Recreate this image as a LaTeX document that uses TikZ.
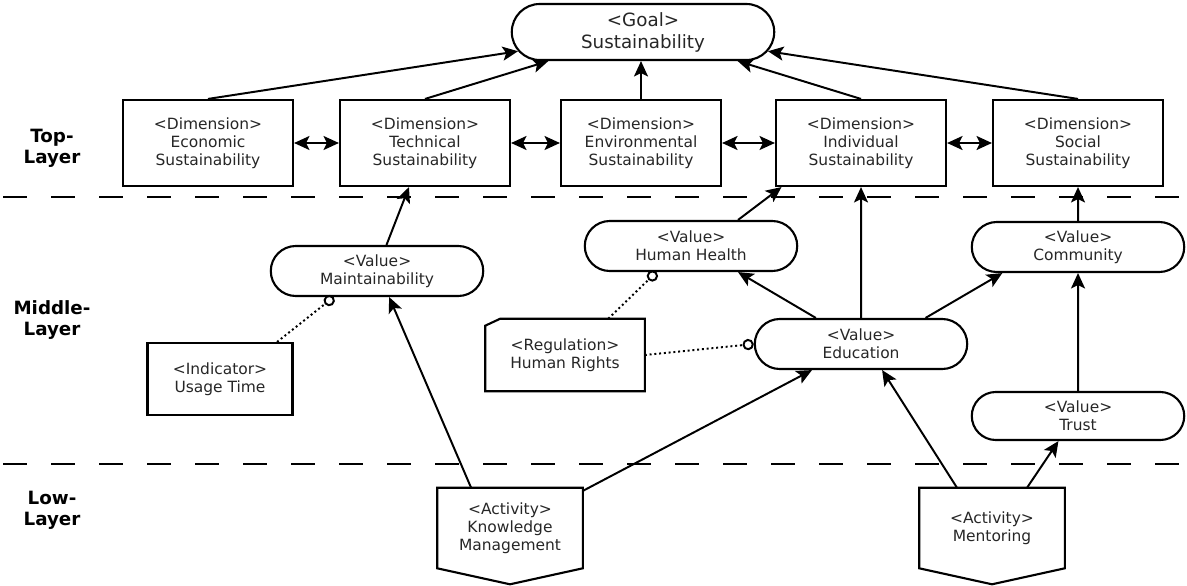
\documentclass[tikz,border=0pt]{standalone}
\usepackage{fontspec}
\setmainfont{DejaVu Sans}
\usetikzlibrary{positioning,arrows.meta,shapes.misc,calc}

\begin{document}
\begin{tikzpicture}[
  x=0.025cm, y=-0.025cm,
  every node/.style={font=\fontsize{11}{12.8}\selectfont,text=black!85,align=center},
  dimbox/.style={draw,line width=1.5pt,minimum width=4.25cm,minimum height=2.15cm,inner sep=2pt},
  valbox/.style={draw,line width=1.5pt,rounded rectangle,minimum width=5.45cm,minimum height=1.25cm,inner sep=2pt},
  plainbox/.style={draw,line width=1.5pt,minimum width=3.625cm,minimum height=1.8cm,inner sep=2pt},
  actbox/.style={minimum width=3.625cm,minimum height=2cm,inner sep=2pt},
  layerlabel/.style={font=\fontsize{13}{15}\selectfont\bfseries,text=black},
  conn/.style={line width=1.4pt,-{Stealth[length=11pt,width=10pt,inset=2.5pt]}},
  dbl/.style={line width=1.4pt,{Stealth[length=11pt,width=10pt,inset=2.5pt]}-{Stealth[length=11pt,width=10pt,inset=2.5pt]}},
  weak/.style={line width=1.4pt,dotted,-{Circle[open,length=8pt,width=8pt]}},
  layersep/.style={line width=1.5pt,dash pattern=on 0.6cm off 0.6cm}
]
\useasboundingbox (0,0) rectangle (1187,585);

% Ebenen
\draw[layersep] (3,197) -- (1187,197);
\draw[layersep] (3,464) -- (1187,464);
\node[layerlabel] (ltop) at (52,148) {Top-\\Layer};
\node[layerlabel] (lmid) at (52,320) {Middle-\\Layer};
\node[layerlabel] (llow) at (52,510) {Low-\\Layer};

% Ziel
\node[valbox,minimum width=6.7cm,minimum height=1.4cm,
  font=\fontsize{13}{15.6}\selectfont] (goal) at (643,32) {<Goal>\\Sustainability};

% Dimensionen
\node[dimbox] (econ) at (208,143) {<Dimension>\\Economic\\Sustainability};
\node[dimbox] (tech) at (425,143) {<Dimension>\\Technical\\Sustainability};
\node[dimbox,minimum width=4cm] (env) at (641,143) {<Dimension>\\Environmental\\Sustainability};
\node[dimbox] (indiv) at (861,143) {<Dimension>\\Individual\\Sustainability};
\node[dimbox] (social) at (1078,143) {<Dimension>\\Social\\Sustainability};

\foreach \a/\b in {econ/tech,tech/env,env/indiv,indiv/social}
  \draw[dbl] (\a) -- (\b);
\foreach \n in {econ,tech,indiv,social}
  \draw[conn] (\n.north) -- (goal);
\draw[conn] (env.north) -- (env.north |- goal.south);

% Werte
\node[valbox] (maint) at (377,271) {<Value>\\Maintainability};
\node[valbox] (health) at (691,246) {<Value>\\Human Health};
\node[valbox] (edu) at (861,344) {<Value>\\Education};
\node[valbox] (comm) at (1078,247) {<Value>\\Community};
\node[valbox,minimum height=1.2cm] (trust) at (1078,416) {<Value>\\Trust};

% Indikator und Regulierung
\node[plainbox] (usage) at (220,379) {<Indicator>\\Usage Time};
\node[actbox,minimum width=3.975cm,minimum height=1.8cm] (rights) at (565,355) {<Regulation>\\Human Rights};
\draw[line width=1.5pt] ($(rights.north west)+(15,0)$) -- (rights.north east)
  -- (rights.south east) -- (rights.south west) -- ($(rights.north west)+(0,7)$) -- cycle;

% Aktivitaeten
\node[actbox] (know) at (510,528) {<Activity>\\Knowledge\\Management};
\node[actbox] (mentor) at (992,528) {<Activity>\\Mentoring};
\foreach \n in {know,mentor}
  \draw[line width=1.5pt] (\n.north west) -- (\n.north east) -- (\n.south east)
    -- ($(\n.south)+(0,16)$) -- (\n.south west) -- cycle;

% Beziehungen
\draw[conn] (maint.70) -- (tech.250);
\draw[weak] (usage.33) -- (maint.211);
\draw[conn] (know.134) -- (maint.295);
\draw[conn] (know.27) -- (edu.208);
\draw[conn] (mentor.131) -- (edu.309);
\draw[conn] (mentor.49) -- (trust.232);
\draw[conn] (trust) -- (comm);
\draw[conn] (comm) -- (social);
\draw[conn] (edu.22) -- (comm.199);
\draw[conn] (edu) -- (indiv);
\draw[conn] (edu.150) -- (health.331);
\draw[conn] (health.29) -- (indiv.209);
\draw[weak] (rights.40) -- (health.217);
\draw[weak] (rights.east) -- (edu.west);

\end{tikzpicture}
\end{document}
